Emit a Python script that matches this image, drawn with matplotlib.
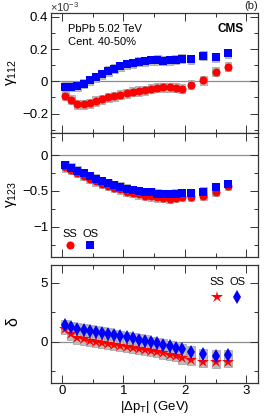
import matplotlib
matplotlib.use("Agg")
import matplotlib.pyplot as plt
from matplotlib.ticker import MultipleLocator
import numpy as np

plt.rcParams['font.family'] = ['Liberation Sans', 'DejaVu Sans']
plt.rcParams['mathtext.fontset'] = 'custom'
plt.rcParams['mathtext.rm'] = 'Liberation Sans'
plt.rcParams['mathtext.it'] = 'Liberation Sans:italic'

dpt = [0.05, 0.15, 0.25, 0.35, 0.45, 0.55, 0.65, 0.75, 0.85, 0.95,
       1.05, 1.15, 1.25, 1.35, 1.45, 1.55, 1.65, 1.75, 1.85, 1.95,
       2.1, 2.3, 2.5, 2.7]

g112_ss = [-0.089, -0.115, -0.142, -0.142, -0.136, -0.122, -0.111, -0.100, -0.093, -0.082,
           -0.074, -0.066, -0.060, -0.054, -0.047, -0.039, -0.037, -0.037, -0.039, -0.047,
           -0.020, 0.006, 0.058, 0.089]
g112_os = [-0.033, -0.033, -0.031, -0.016, 0.008, 0.025, 0.045, 0.064, 0.078, 0.093,
           0.105, 0.113, 0.120, 0.124, 0.130, 0.132, 0.128, 0.130, 0.134, 0.140,
           0.136, 0.159, 0.148, 0.173]

g123_ss = [-0.17, -0.21, -0.25, -0.29, -0.33, -0.365, -0.40, -0.43, -0.46, -0.48,
           -0.51, -0.53, -0.55, -0.565, -0.575, -0.59, -0.60, -0.61, -0.60, -0.58,
           -0.58, -0.57, -0.51, -0.43]
g123_os = [-0.14, -0.176, -0.218, -0.255, -0.29, -0.33, -0.36, -0.39, -0.42, -0.44,
           -0.47, -0.486, -0.50, -0.514, -0.52, -0.537, -0.546, -0.55, -0.54, -0.53,
           -0.53, -0.51, -0.45, -0.41]

delta_ss = [1.1, 0.62, 0.3, 0.2, 0.1, 0.0, -0.08, -0.16, -0.25, -0.33,
            -0.42, -0.52, -0.6, -0.7, -0.78, -0.88, -0.98, -1.1, -1.22, -1.4,
            -1.55, -1.7, -1.75, -1.68]
delta_os = [1.38, 1.25, 1.12, 1.03, 0.95, 0.86, 0.78, 0.68, 0.58, 0.48,
            0.38, 0.28, 0.18, 0.08, -0.02, -0.12, -0.25, -0.38, -0.5, -0.65,
            -0.85, -1.07, -1.18, -1.13]

RED = '#ff0000'
BLUE = '#0000ff'
BOX = '#bdbdbd'
BOXE = '#a0a0a0'

fig = plt.figure(figsize=(2.66, 4.18), dpi=100)
L, W = 51/266, (258-51)/266
def pos(top, bot):
    return [L, 1-bot/418, W, (bot-top)/418]

ax1 = fig.add_axes(pos(13, 133))
ax2 = fig.add_axes(pos(133, 256.7))
ax3 = fig.add_axes(pos(265, 382.7))

x = np.array(dpt)

def boxes(ax, y, h, w=0.11):
    y = np.array(y)
    ax.bar(x, 2*h, bottom=y-h, width=w, color=BOX, edgecolor=BOXE, linewidth=0.5, zorder=1)

# panel 1
s = 1e-3
boxes(ax1, np.array(g112_ss)*s, 0.028e-3)
boxes(ax1, np.array(g112_os)*s, 0.028e-3)
ax1.plot(x, np.array(g112_ss)*s, 'o', color=RED, ms=5.8, mew=0, zorder=3)
ax1.plot(x, np.array(g112_os)*s, 's', color=BLUE, ms=5.3, mew=0, zorder=4)
ax1.set_ylim(-0.32e-3, 0.423e-3)
ax1.yaxis.set_minor_locator(MultipleLocator(0.1e-3))
ax1.set_yticks([-0.2e-3, 0, 0.2e-3, 0.4e-3])
ax1.set_yticklabels(['\u22120.2', '0', '0.2', '0.4'])

# panel 2
boxes(ax2, np.array(g123_ss)*s, 0.06e-3)
boxes(ax2, np.array(g123_os)*s, 0.06e-3)
ax2.plot(x, np.array(g123_ss)*s, 'o', color=RED, ms=5.8, mew=0, zorder=3)
ax2.plot(x, np.array(g123_os)*s, 's', color=BLUE, ms=5.3, mew=0, zorder=4)
ax2.set_ylim(-1.42e-3, 0.31e-3)
ax2.set_yticks([-1e-3, -0.5e-3, 0])
ax2.set_yticklabels(['\u22121', '\u22120.5', '0'])
ax2.yaxis.set_minor_locator(MultipleLocator(0.25e-3))

# panel 3
boxes(ax3, delta_ss, 0.45, w=0.13)
boxes(ax3, delta_os, 0.45, w=0.13)
ax3.plot(x, delta_ss, '*', color=RED, ms=9, mew=0, zorder=3)
ax3.plot(x, delta_os, 'd', color=BLUE, ms=7.5, mew=0, zorder=4)
ax3.set_ylim(-3.47, 6.5)
ax3.set_yticks([0, 5])
ax3.yaxis.set_minor_locator(MultipleLocator(2.5))

for ax in (ax1, ax2, ax3):
    ax.set_xlim(-0.18, 3.19)
    ax.axhline(0, color='#8c8c8c', lw=0.9, zorder=0.5)
    ax.xaxis.set_major_locator(MultipleLocator(1))
    ax.xaxis.set_minor_locator(MultipleLocator(0.5))
    ax.tick_params(which='both', direction='in', top=True, right=True,
                   color='#333333', width=0.7, labelsize=9.5, pad=2)
    ax.tick_params(which='major', length=5.5)
    ax.tick_params(which='minor', length=3)
    for sp in ax.spines.values():
        sp.set_color('#333333')
        sp.set_linewidth(0.9)

ax1.tick_params(labelbottom=False)
ax2.tick_params(labelbottom=False)
ax3.set_xticks([0, 1, 2, 3])

ax1.set_ylabel('\u03b3$_{112}$', fontsize=11)
ax2.set_ylabel('\u03b3$_{123}$', fontsize=11)
ax3.set_ylabel('\u03b4', fontsize=11.5)
ax1.yaxis.set_label_coords(-0.155, 0.5)
ax2.yaxis.set_label_coords(-0.155, 0.5)
ax3.yaxis.set_label_coords(-0.15, 0.52)
ax3.set_xlabel(r'$|\Delta$p$_{\rm T}|$ (GeV)', fontsize=9.5, labelpad=1)

fig.text(50/266, 1-7/418, r'$\times$10$^{-3}$', fontsize=8, ha='left', va='center', color='#333333')
fig.text(258/266, 1-6/418, '(b)', fontsize=8, ha='right', va='center', color='#222222')

ax1.text(0.08, 0.87, 'PbPb 5.02 TeV', transform=ax1.transAxes, fontsize=8, va='center')
ax1.text(0.08, 0.76, 'Cent. 40-50%', transform=ax1.transAxes, fontsize=8, va='center')
ax1.text(0.93, 0.87, 'CMS', transform=ax1.transAxes, fontsize=8.5, fontweight='bold', ha='right', va='center')

# legends
ax2.text(0.09, 0.185, 'SS', transform=ax2.transAxes, fontsize=8, ha='center', va='center')
ax2.text(0.19, 0.185, 'OS', transform=ax2.transAxes, fontsize=8, ha='center', va='center')
ax2.plot([0.09], [0.095], 'o', color=RED, ms=5.8, mew=0, transform=ax2.transAxes)
ax2.plot([0.19], [0.095], 's', color=BLUE, ms=5.3, mew=0, transform=ax2.transAxes)

ax3.text(0.80, 0.855, 'SS', transform=ax3.transAxes, fontsize=8, ha='center', va='center')
ax3.text(0.90, 0.855, 'OS', transform=ax3.transAxes, fontsize=8, ha='center', va='center')
ax3.plot([0.80], [0.73], '*', color=RED, ms=9, mew=0, transform=ax3.transAxes)
ax3.plot([0.90], [0.73], 'd', color=BLUE, ms=7.5, mew=0, transform=ax3.transAxes)

fig.savefig('out.png', dpi=100)
